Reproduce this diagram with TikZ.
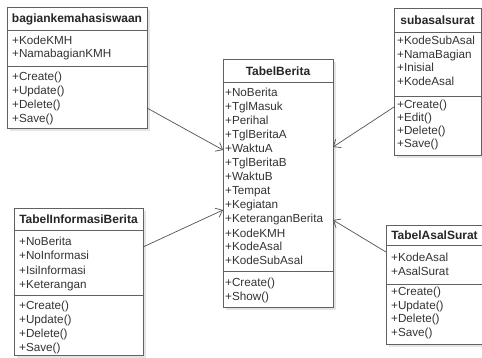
\documentclass[tikz,border=0pt]{standalone}
\usepackage{fontspec}
\setmainfont{Liberation Sans}
\usetikzlibrary{arrows.meta,shadows}
\begin{document}
\begin{tikzpicture}[x=1pt,y=-1pt,
  box/.style={draw=black!62, line width=0.9pt, fill=white, anchor=north west, inner sep=0pt, outer sep=0pt,
    drop shadow={shadow xshift=3pt,shadow yshift=-3pt,fill=black!30,opacity=0.35}},
  ttl/.style={font=\bfseries\fontsize{12}{14}\selectfont, text=black!85, anchor=base, inner sep=0pt},
  row/.style={font=\fontsize{11.7}{14}\selectfont, text=black!80, anchor=base west, inner sep=0pt},
  sep/.style={draw=black!62, line width=0.9pt},
  link/.style={draw=black!68, line width=0.7pt, -{Straight Barb[length=6pt,width=10pt]}}]
\useasboundingbox (0,0) rectangle (482,358);
\fill[white] (0,0) rectangle (482,358);

% bagiankemahasiswaan
\node[box, minimum width=140pt, minimum height=121pt] (bag) at (7,7) {};
\draw[sep] ([yshift=-23pt]bag.north west) -- ([yshift=-23pt]bag.north east);
\draw[sep] ([yshift=-59pt]bag.north west) -- ([yshift=-59pt]bag.north east);
\node[ttl] (bagT) at (77,23) {bagiankemahasiswaan};
\foreach \t [count=\i from 0] in {+KodeKMH,+NamabagianKMH}
  \node[row] (bagA\i) at (12,44.5+13*\i) {\t};
\foreach \t [count=\i from 0] in {+Create(),+Update(),+Delete(),+Save()}
  \node[row] (bagM\i) at (12,80.5+14*\i) {\t};

% TabelBerita
\node[box, minimum width=110pt, minimum height=248pt] (tb) at (223,59) {};
\draw[sep] ([yshift=-23pt]tb.north west) -- ([yshift=-23pt]tb.north east);
\draw[sep] ([yshift=-212pt]tb.north west) -- ([yshift=-212pt]tb.north east);
\node[ttl] (tbT) at (278,76) {TabelBerita};
\foreach \t [count=\i from 0] in {+NoBerita,+TglMasuk,+Perihal,+TglBeritaA,+WaktuA,+TglBeritaB,+WaktuB,+Tempat,+Kegiatan,+KeteranganBerita,+KodeKMH,+KodeAsal,+KodeSubAsal}
  \node[row] (tbA\i) at (225,97+14*\i) {\t};
\foreach \t [count=\i from 0] in {+Create(),+Show()}
  \node[row] (tbM\i) at (225,286.5+14*\i) {\t};

% subasalsurat
\node[box, minimum width=87pt, minimum height=147pt] (sub) at (394,8) {};
\draw[sep] ([yshift=-24pt]sub.north west) -- ([yshift=-24pt]sub.north east);
\draw[sep] ([yshift=-88pt]sub.north west) -- ([yshift=-88pt]sub.north east);
\node[ttl] (subT) at (437.5,24.5) {subasalsurat};
\foreach \t [count=\i from 0] in {+KodeSubAsal,+NamaBagian,+Inisial,+KodeAsal}
  \node[row] (subA\i) at (397,44.5+13.7*\i) {\t};
\foreach \t [count=\i from 0] in {+Create(),+Edit(),+Delete(),+Save()}
  \node[row] (subM\i) at (397,108.5+13*\i) {\t};

% TabelInformasiBerita
\node[box, minimum width=129pt, minimum height=147pt] (tib) at (14,208) {};
\draw[sep] ([yshift=-22pt]tib.north west) -- ([yshift=-22pt]tib.north east);
\draw[sep] ([yshift=-87pt]tib.north west) -- ([yshift=-87pt]tib.north east);
\node[ttl] (tibT) at (78.5,223.5) {TabelInformasiBerita};
\foreach \t [count=\i from 0] in {+NoBerita,+NoInformasi,+IsiInformasi,+Keterangan}
  \node[row] (tibA\i) at (19,246+14*\i) {\t};
\foreach \t [count=\i from 0] in {+Create(),+Update(),+Delete(),+Save()}
  \node[row] (tibM\i) at (19,309.5+14*\i) {\t};

% TabelAsalSurat
\node[box, minimum width=96pt, minimum height=119pt] (tas) at (386,225) {};
\draw[sep] ([yshift=-20pt]tas.north west) -- ([yshift=-20pt]tas.north east);
\draw[sep] ([yshift=-59pt]tas.north west) -- ([yshift=-59pt]tas.north east);
\node[ttl] (tasT) at (434.5,239.5) {TabelAsalSurat};
\foreach \t [count=\i from 0] in {+KodeAsal,+AsalSurat}
  \node[row] (tasA\i) at (391,261.5+14*\i) {\t};
\foreach \t [count=\i from 0] in {+Create(),+Update(),+Delete(),+Save()}
  \node[row] (tasM\i) at (391,295.5+13.7*\i) {\t};

% connectors
\draw[link] ([yshift=20pt]bag.south east) -- ([yshift=-91pt]tb.north west);
\draw[link] ([yshift=-39pt]tib.north east) -- ([yshift=-151pt]tb.north west);
\draw[link] ([yshift=-99pt]sub.north west) -- ([yshift=-88pt]tb.north east);
\draw[link] ([yshift=-27pt]tas.north west) -- ([yshift=-161pt]tb.north east);
\end{tikzpicture}
\end{document}
